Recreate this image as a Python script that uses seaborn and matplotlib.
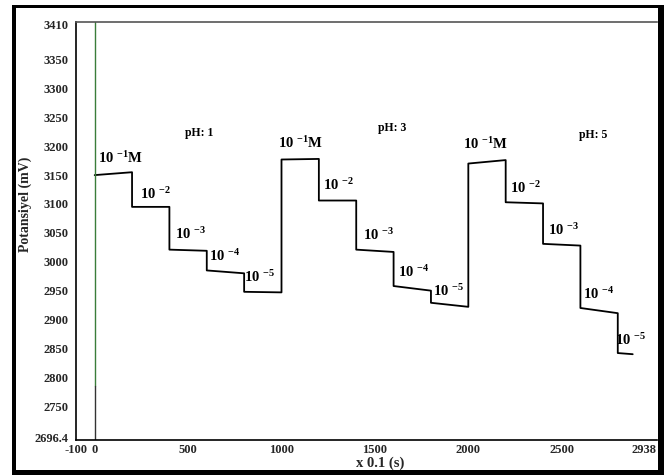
import matplotlib
matplotlib.use("Agg")
import matplotlib.pyplot as plt
from matplotlib.patches import Rectangle
import seaborn as sns
import pandas as pd

# --- data ---
seg_x_start = [0, 200, 400, 600, 800, 1000, 1200, 1400, 1600, 1800, 2000, 2200, 2400, 2600, 2800]
seg_x_end = [200, 400, 600, 800, 1000, 1200, 1400, 1600, 1800, 2000, 2200, 2400, 2600, 2800, 2880]
seg_v_start = [3150, 3095, 3021, 2985, 2948, 3177, 3106, 3021, 2958, 2929, 3170, 3103, 3031, 2920, 2842]
seg_v_end = [3155, 3095, 3019, 2980, 2947, 3178, 3106, 3017, 2950, 2922, 3176, 3101, 3028, 2911, 2840]

conc_labels = [r"10 $^{-1}$M", r"10 $^{-2}$", r"10 $^{-3}$", r"10 $^{-4}$", r"10 $^{-5}$"] * 3
conc_label_x = [141, 326, 515, 695, 883, 1103, 1307, 1517, 1708, 1894, 2092, 2305, 2509, 2697, 2869]
conc_label_y = [3180, 3117, 3048, 3010, 2974, 3205, 3133, 3046, 2983, 2949, 3204, 3127, 3055, 2944, 2865]

ph_labels = ["pH: 1", "pH: 3", "pH: 5"]
ph_label_x = [561, 1592, 2668]
ph_label_y = [3223, 3231, 3219]

xticks = [-100, 0, 500, 1000, 1500, 2000, 2500, 2938]
yticks = [2696.4, 2750, 2800, 2850, 2900, 2950, 3000, 3050, 3100, 3150, 3200, 3250, 3300, 3350, 3410]
ytick_labels = ["2696.4", "2750", "2800", "2850", "2900", "2950", "3000", "3050",
                "3100", "3150", "3200", "3250", "3300", "3350", "3410"]

# build the trace
xs, ys = [], []
for a, b, va, vb in zip(seg_x_start, seg_x_end, seg_v_start, seg_v_end):
    xs += [a, b]
    ys += [va, vb]
df = pd.DataFrame({"t": xs, "mV": ys})

sns.set_theme(style="white")
plt.rcParams["font.family"] = ["Liberation Serif", "DejaVu Serif"]
plt.rcParams["mathtext.fontset"] = "custom"
plt.rcParams["mathtext.rm"] = "Liberation Serif:bold"
plt.rcParams["mathtext.it"] = "Liberation Serif:bold"
plt.rcParams["mathtext.bf"] = "Liberation Serif:bold"

W, H = 664, 475
fig = plt.figure(figsize=(W / 100, H / 100), dpi=100)
ax = fig.add_axes([76 / W, (H - 440) / H, (657 - 76) / W, (440 - 22) / H])

sns.lineplot(data=df, x="t", y="mV", sort=False, estimator=None, color="black",
             linewidth=1.3, ax=ax)

ax.set_xlim(-100, 3010)
ax.set_ylim(2691.5, 3415)

# vertical marker at t=0
ybot, ytop = ax.get_ylim()
frac = (2785 - ybot) / (ytop - ybot)
ax.axvline(0, ymin=frac, ymax=1, color="#3a7d3a", linewidth=1.0)
ax.axvline(0, ymin=0, ymax=frac, color="#333333", linewidth=1.0)

for s, x, y in zip(conc_labels, conc_label_x, conc_label_y):
    ax.text(x, y, s, ha="center", va="center", fontsize=10.5, fontweight="bold", color="black")
for s, x, y in zip(ph_labels, ph_label_x, ph_label_y):
    ax.text(x, y, s, ha="center", va="center", fontsize=8.5, fontweight="bold", color="black")

ax.set_xticks(xticks)
ax.set_xticklabels([str(v) for v in xticks], fontsize=9, fontweight="bold")
ax.set_yticks(yticks)
ax.set_yticklabels(ytick_labels, fontsize=9, fontweight="bold")
ax.tick_params(axis="y", direction="out", length=4, width=1, color="black", pad=1.5)
ax.tick_params(axis="x", length=0, pad=3)

ax.set_xlabel("x 0.1 (s)", fontsize=10.5, fontweight="bold")
ax.set_ylabel("Potansiyel (mV)", fontsize=10, fontweight="bold")
ax.xaxis.set_label_coords(380 / W, (H - 457) / H, transform=fig.transFigure)
ax.yaxis.set_label_coords(32 / W, (H - 204) / H, transform=fig.transFigure)

for side in ["left", "bottom"]:
    ax.spines[side].set_color("black")
    ax.spines[side].set_linewidth(1.2)
ax.spines["top"].set_color("#555555")
ax.spines["top"].set_linewidth(1.2)
ax.spines["right"].set_visible(False)

# outer thick frame
def frect(x0, y0, x1, y1):
    fig.patches.append(Rectangle((x0 / W, 1 - y1 / H), (x1 - x0) / W, (y1 - y0) / H,
                                 transform=fig.transFigure, facecolor="black",
                                 edgecolor="none", zorder=10))
frect(12, 5, 16, 475)
frect(12, 5, 664, 8)
frect(658, 5, 664, 475)
frect(12, 470, 664, 475)

fig.savefig("out.png", dpi=100)
